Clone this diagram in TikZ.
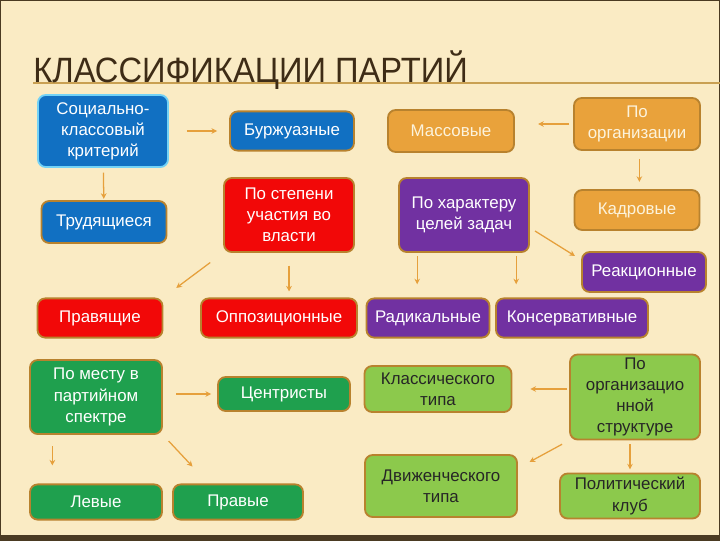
\documentclass[tikz,border=0pt]{standalone}
\usepackage{fontspec}
\setmainfont{Liberation Sans}
\newfontfamily\titlefont[FakeStretch=0.93]{Liberation Sans}
\usetikzlibrary{arrows.meta}

\definecolor{cream}{HTML}{FAEBC4}
\definecolor{framec}{HTML}{4A3A22}
\definecolor{titlec}{HTML}{3E2C16}
\definecolor{goldline}{HTML}{C9A052}
\definecolor{edgec}{HTML}{B8822E}
\definecolor{linkc}{HTML}{E6A03C}
\definecolor{blueb}{HTML}{1170C2}
\definecolor{orangeb}{HTML}{E9A23B}
\definecolor{redb}{HTML}{F20808}
\definecolor{purpleb}{HTML}{7131A1}
\definecolor{greenb}{HTML}{1FA04E}
\definecolor{lightb}{HTML}{8CC94C}

\begin{document}
\begin{tikzpicture}[x=0.025cm, y=-0.025cm,
    box/.style={draw=edgec, line width=1.3pt, rounded corners=5.5pt, align=center,
        text=white, inner sep=1pt, font=\fontsize{12}{15}\selectfont},
    bluebox/.style={box, fill=blueb},
    orangebox/.style={box, fill=orangeb, text=cream!60!white},
    redbox/.style={box, fill=redb},
    purplebox/.style={box, fill=purpleb},
    greenbox/.style={box, fill=greenb},
    lightbox/.style={box, fill=lightb, text=black!85},
    link/.style={draw=linkc, line width=0.9pt, -{Stealth[length=4pt, width=4pt]}}]

    % Background and frame
    \useasboundingbox (0,0) rectangle (720,540);
    \fill[cream] (0,0) rectangle (720,540);
    \draw[framec, line width=1.2pt] (0,0) rectangle (720,540);
    \fill[framec] (0,535) rectangle (720,540);

    % Title
    \draw[goldline, line width=0.8pt] (33,83) -- (720,83);
    \node[anchor=base west, inner sep=0pt, text=titlec, font=\titlefont\fontsize{25}{28}\selectfont] (title) at (33,82) {КЛАССИФИКАЦИИ ПАРТИЙ};

    % First row
    \node[bluebox, draw=cyan!55!white, minimum width=3.25cm, minimum height=1.8cm] (soc) at (103,131) {Социально-\\классовый\\критерий};
    \node[bluebox, minimum width=3.1cm, minimum height=0.98cm] (burzh) at (292,131) {Буржуазные};
    \node[orangebox, minimum width=3.15cm, minimum height=1.05cm] (mass) at (451,131) {Массовые};
    \node[orangebox, minimum width=3.15cm, minimum height=1.3cm] (org) at (637,124) {По\\организации};

    % Second row
    \node[bluebox, minimum width=3.125cm, minimum height=1.05cm] (trud) at (104,222) {Трудящиеся};
    \node[redbox, minimum width=3.25cm, minimum height=1.85cm] (power) at (289,215) {По степени\\участия во\\власти};
    \node[purplebox, minimum width=3.25cm, minimum height=1.85cm] (goals) at (464,215) {По характеру\\целей задач};
    \node[orangebox, minimum width=3.125cm, minimum height=1.0cm] (cadre) at (637,210) {Кадровые};
    \node[purplebox, minimum width=3.1cm, minimum height=1.0cm] (react) at (644,272) {Реакционные};

    % Third row
    \node[redbox, minimum width=3.125cm, minimum height=0.98cm] (ruling) at (100,318) {Правящие};
    \node[redbox, minimum width=3.9cm, minimum height=0.98cm] (oppos) at (279,318) {Оппозиционные};
    \node[purplebox, minimum width=3.075cm, minimum height=0.98cm] (radical) at (428,318) {Радикальные};
    \node[purplebox, minimum width=3.8cm, minimum height=0.98cm] (conserv) at (572,318) {Консервативные};

    % Fourth row
    \node[greenbox, minimum width=3.3cm, minimum height=1.85cm] (spectrum) at (96,397) {По месту в\\партийном\\спектре};
    \node[greenbox, minimum width=3.3cm, minimum height=0.85cm] (centr) at (284,394) {Центристы};
    \node[lightbox, minimum width=3.675cm, minimum height=1.15cm] (classic) at (438,389) {Классического\\типа};
    \node[lightbox, minimum width=3.25cm, minimum height=2.125cm] (struct) at (635,397) {По\\организацио\\нной\\структуре};

    % Bottom row
    \node[greenbox, minimum width=3.3cm, minimum height=0.88cm] (leftp) at (96,502) {Левые};
    \node[greenbox, minimum width=3.25cm, minimum height=0.88cm] (rightp) at (238,502) {Правые};
    \node[lightbox, minimum width=3.8cm, minimum height=1.55cm] (movement) at (441,486) {Движенческого\\типа};
    \node[lightbox, minimum width=3.5cm, minimum height=1.125cm] (club) at (630,496) {Политический\\клуб};

    % Connectors
    \draw[link, shorten <=0.45cm, shorten >=0.3cm] (soc) -- (burzh);
    \draw[link, shorten <=0.12cm, shorten >=0.03cm] (soc) -- (trud);
    \draw[link, shorten <=0.1cm, shorten >=0.58cm] (org.west) -- (org.west -| mass.east);
    \draw[link, shorten <=0.2cm, shorten >=0.18cm] (org.-85) -- (org.-85 |- cadre.north);
    \draw[link, shorten <=0.4cm, shorten >=0.4cm] (power.south west) -- (ruling.north east);
    \draw[link, shorten <=0.32cm, shorten >=0.15cm] (power.south) -- (power.south |- oppos.north);
    \draw[link, shorten <=0.15cm, shorten >=0.18cm] (goals.-11) -- (react.169);
    \draw[link, shorten <=0.08cm, shorten >=0.33cm] (goals.219) -- (goals.219 |- radical.north);
    \draw[link, shorten <=0.08cm, shorten >=0.33cm] (goals.-36.5) -- (goals.-36.5 |- conserv.north);
    \draw[link, shorten <=0.33cm, shorten >=0.15cm] (centr.west -| spectrum.east) -- (centr.west);
    \draw[link, shorten <=0.28cm, shorten >=0.45cm] (spectrum.221) -- (spectrum.221 |- leftp.north);
    \draw[link, shorten <=0.21cm, shorten >=0.58cm] (spectrum.south east) -- (rightp.148);
    \draw[link, shorten <=0.05cm, shorten >=0.45cm] (classic.east -| struct.west) -- (classic.east);
    \draw[link, shorten <=0.2cm, shorten >=0.33cm] (struct.south west) -- (movement.13);
    \draw[link, shorten <=0.1cm, shorten >=0.08cm] (struct.south -| club.north) -- (club.north);

\end{tikzpicture}
\end{document}
